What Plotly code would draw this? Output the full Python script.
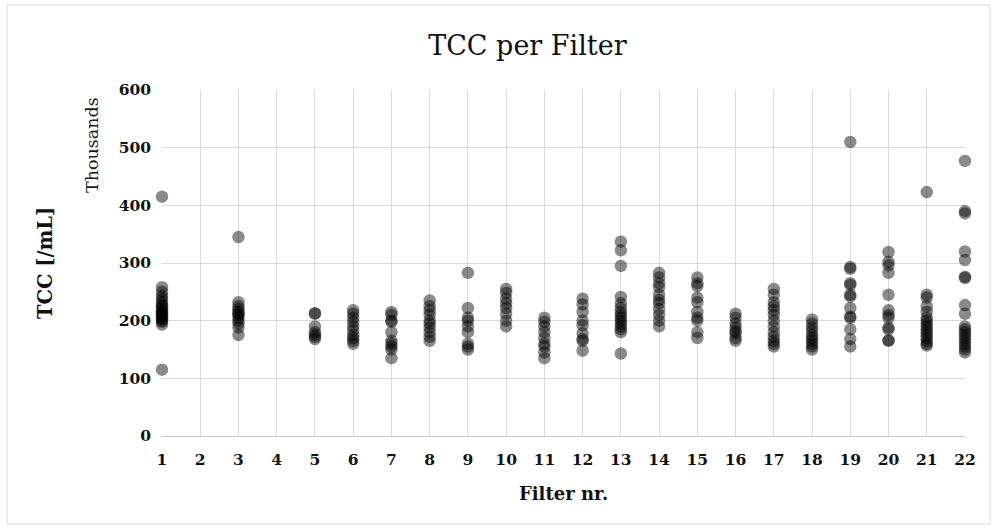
import plotly.graph_objects as go

# TCC values (thousands per mL) read for each filter number
filters = [1, 3, 5, 6, 7, 8, 9, 10, 11, 12, 13, 14, 15, 16, 17, 18, 19, 20, 21, 22]
tcc_1 = [415, 258, 250, 243, 238, 233, 228, 225, 222, 218, 215, 213, 210, 208, 205, 203, 200, 198, 193, 115]
tcc_3 = [345, 232, 225, 220, 215, 212, 210, 205, 200, 195, 188, 175]
tcc_5 = [213, 212, 190, 180, 176, 172, 168]
tcc_6 = [218, 212, 205, 198, 190, 183, 175, 170, 165, 160]
tcc_7 = [215, 210, 200, 198, 180, 165, 160, 155, 150, 135]
tcc_8 = [235, 225, 218, 210, 200, 195, 188, 180, 172, 165]
tcc_9 = [283, 222, 205, 200, 190, 180, 160, 155, 150]
tcc_10 = [255, 248, 238, 230, 222, 212, 200, 190]
tcc_11 = [205, 198, 190, 180, 170, 160, 155, 145, 135]
tcc_12 = [238, 228, 215, 200, 192, 178, 168, 165, 148]
tcc_13 = [337, 322, 295, 241, 230, 222, 215, 210, 205, 200, 195, 190, 185, 180, 143]
tcc_14 = [283, 275, 265, 258, 245, 236, 230, 220, 210, 200, 190]
tcc_15 = [275, 265, 260, 240, 232, 215, 205, 200, 180, 170]
tcc_16 = [212, 205, 195, 188, 182, 178, 170, 165]
tcc_17 = [255, 245, 232, 225, 218, 210, 200, 190, 180, 172, 165, 160, 155]
tcc_18 = [202, 195, 188, 182, 175, 170, 165, 160, 155, 150]
tcc_19 = [510, 293, 290, 265, 262, 245, 242, 222, 207, 205, 185, 168, 155]
tcc_20 = [319, 302, 296, 283, 245, 218, 210, 205, 188, 185, 166, 165]
tcc_21 = [423, 245, 240, 225, 215, 205, 200, 195, 190, 185, 180, 175, 170, 165, 160, 157]
tcc_22 = [477, 390, 386, 320, 305, 276, 274, 227, 212, 190, 185, 180, 175, 170, 165, 160, 155, 150, 145]

series = [tcc_1, tcc_3, tcc_5, tcc_6, tcc_7, tcc_8, tcc_9, tcc_10, tcc_11, tcc_12,
          tcc_13, tcc_14, tcc_15, tcc_16, tcc_17, tcc_18, tcc_19, tcc_20, tcc_21, tcc_22]

xs, ys = [], []
for f, vals in zip(filters, series):
    xs += [f] * len(vals)
    ys += vals

x_ticks = list(range(1, 23))
y_ticks = [0, 100, 200, 300, 400, 500, 600]

SERIF = "DejaVu Serif"
grid = "#d9d9d9"

fig = go.Figure()
fig.add_trace(go.Scatter(
    x=xs, y=ys, mode="markers", cliponaxis=False,
    marker=dict(size=12.5, color="rgba(0,0,0,0.46)", line=dict(width=0)),
    hoverinfo="x+y", showlegend=False,
))

fig.update_layout(
    width=997, height=529,
    margin=dict(l=162, r=32, t=90, b=93),
    paper_bgcolor="white", plot_bgcolor="white",
    title=dict(text="TCC per Filter", x=0.529, xanchor="center", y=1 - 46 / 529, yanchor="middle",
               font=dict(family=SERIF, size=27, color="#111111")),
    xaxis=dict(range=[1, 22], tickvals=x_ticks, ticktext=[str(v) for v in x_ticks],
               showgrid=True, gridcolor=grid, gridwidth=1, zeroline=False,
               showline=True, linecolor="#c8c8c8", linewidth=1, mirror=False,
               ticks="", ticklabelstandoff=9,
               tickfont=dict(family=SERIF, size=15.5, color="#111111", weight="bold")),
    yaxis=dict(range=[0, 600], tickvals=y_ticks, ticktext=[str(v) for v in y_ticks],
               showgrid=True, gridcolor=grid, gridwidth=1, zeroline=False,
               showline=False, ticks="", ticklabelstandoff=10,
               tickfont=dict(family=SERIF, size=15.5, color="#111111", weight="bold")),
    shapes=[dict(type="rect", xref="paper", yref="paper",
                 x0=(7 - 162) / 803, x1=(990 - 162) / 803,
                 y0=(436 - 524) / 346, y1=(436 - 5) / 346,
                 line=dict(color="#d9d9d9", width=1), fillcolor="rgba(0,0,0,0)", layer="below")],
    annotations=[
        dict(text="Thousands", xref="paper", yref="paper", x=(92 - 162) / 803, y=(436 - 145) / 346,
             showarrow=False, textangle=-90, xanchor="center", yanchor="middle",
             font=dict(family=SERIF, size=17.5, color="#1a1a1a")),
        dict(text="TCC [/mL]", xref="paper", yref="paper", x=(45 - 162) / 803, y=(436 - 263) / 346,
             showarrow=False, textangle=-90, xanchor="center", yanchor="middle",
             font=dict(family=SERIF, size=19.5, color="#111111", weight="bold")),
        dict(text="Filter nr.", xref="paper", yref="paper", x=(563 - 162) / 803, y=(436 - 493) / 346,
             showarrow=False, xanchor="center", yanchor="middle",
             font=dict(family=SERIF, size=18, color="#111111", weight="bold")),
    ],
)

fig.write_html("out.html")
